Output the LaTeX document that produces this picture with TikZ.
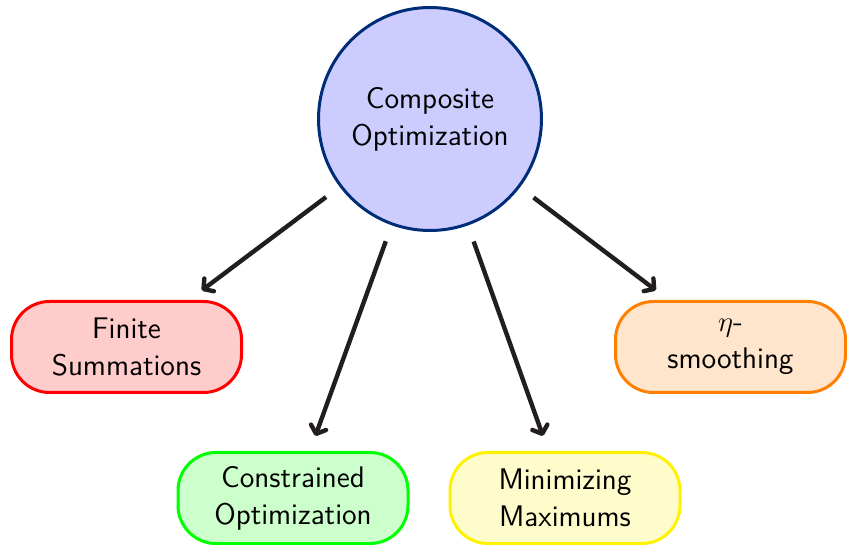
\documentclass[tikz,border=0pt]{standalone}
\usetikzlibrary{arrows.meta}
\definecolor{hubblue}{RGB}{0,45,120}
\definecolor{arrowgray}{RGB}{34,30,32}
\begin{document}
\begin{tikzpicture}[x=0.5pt,y=-0.5pt,
  labelfont/.style={font=\sffamily\fontsize{14.9}{18.4}\selectfont},
  hub/.style={circle, draw=hubblue, fill=blue!20, line width=1.5pt,
    minimum size=111.5pt, inner sep=0pt, align=center, labelfont},
  leaf/.style={rectangle, rounded corners=19pt, line width=1.5pt,
    minimum width=115pt, minimum height=45.5pt, inner sep=2pt,
    align=center, labelfont},
  link/.style={draw=arrowgray, line width=2.2pt,
    -{Straight Barb[length=3.5pt,width=8pt,line cap=round,line join=round]},
    shorten <=8.5pt, shorten >=8pt}]
  \useasboundingbox (0,0) rectangle (847,545);

  \node[hub] (hub) at (430,119) {Composite\\Optimization};

  \node[leaf, draw=red, fill=red!20] (fin) at (126.5,347) {Finite\\Summations};
  \node[leaf, draw=orange, fill=orange!20] (eta) at (730.5,347) {$\eta$-\\smoothing};
  \node[leaf, draw=green, fill=green!20] (con) at (293,498) {Constrained\\Optimization};
  \node[leaf, draw=yellow, fill=yellow!20] (min) at (565,498) {Minimizing\\Maximums};

  \draw[link] (hub) -- (fin);
  \draw[link] (hub) -- (con);
  \draw[link] (hub) -- (min);
  \draw[link] (hub) -- (eta);
\end{tikzpicture}
\end{document}
